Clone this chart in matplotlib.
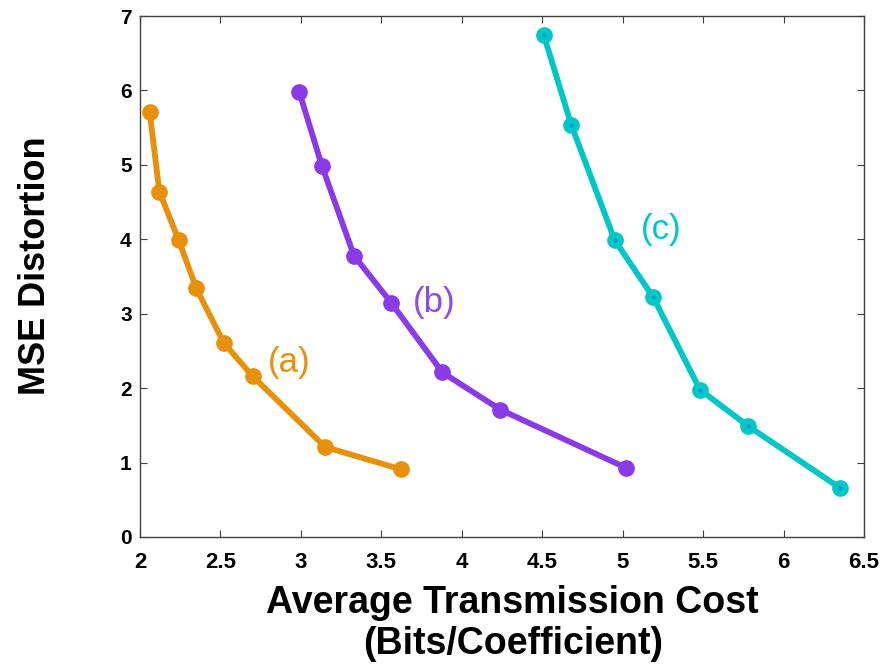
import matplotlib
matplotlib.use("Agg")
import matplotlib.pyplot as plt

plt.rcParams["font.family"] = ["Liberation Sans", "DejaVu Sans"]

# rate-distortion curves: average bits per coefficient vs. MSE
cost_a = [2.06, 2.12, 2.24, 2.35, 2.52, 2.70, 3.15, 3.62]
mse_a = [5.71, 4.64, 3.99, 3.34, 2.61, 2.16, 1.21, 0.91]

cost_b = [2.99, 3.13, 3.33, 3.56, 3.88, 4.24, 5.02]
mse_b = [5.98, 4.99, 3.78, 3.15, 2.21, 1.71, 0.93]

cost_c = [4.51, 4.68, 4.95, 5.19, 5.48, 5.78, 6.35]
mse_c = [6.74, 5.54, 3.99, 3.22, 1.98, 1.49, 0.66]

x_ticks = [2, 2.5, 3, 3.5, 4, 4.5, 5, 5.5, 6, 6.5]
y_ticks = [0, 1, 2, 3, 4, 5, 6, 7]

orange = "#e8900a"
purple = "#8a3ae6"
cyan = "#00c6c6"

fig = plt.figure(figsize=(8.84, 6.64), dpi=100)
ax = fig.add_axes([0.1584, 0.1913, 0.819, 0.7846])

ax.plot(cost_a, mse_a, "-o", color=orange, lw=4.2, ms=11)
ax.plot(cost_b, mse_b, "-o", color=purple, lw=4.2, ms=11)
ax.plot(cost_c, mse_c, "-o", color=cyan, lw=4.2, ms=11)
# small darker centre dots on curve (c)
ax.plot(cost_c, mse_c, "o", color="#0a9ad6", ms=3, mec="none")

ax.text(2.93, 2.35, "(a)", color=orange, fontsize=25, ha="center", va="center")
ax.text(3.83, 3.15, "(b)", color="#8a4cf0", fontsize=25, ha="center", va="center")
ax.text(5.24, 4.13, "(c)", color=cyan, fontsize=25, ha="center", va="center")

ax.set_xlim(2, 6.5)
ax.set_ylim(0, 7)
ax.set_xticks(x_ticks)
ax.set_xticklabels([f"{t:g}" for t in x_ticks], fontsize=16, fontweight="bold")
ax.set_yticks(y_ticks)
ax.set_yticklabels([str(t) for t in y_ticks], fontsize=15, fontweight="bold")
ax.tick_params(direction="in", length=5, width=0.8, color="#404040",
               top=True, right=True)
ax.tick_params(axis="x", pad=11)
ax.tick_params(axis="y", pad=6)
for s in ax.spines.values():
    s.set_color("#404040")
    s.set_linewidth(1.0)

fig.text(0.040, 0.600, "MSE Distortion", rotation=90, ha="center", va="center",
         fontsize=26, fontweight="bold")
fig.text(0.58, 0.092, "Average Transmission Cost", ha="center", va="center",
         fontsize=27, fontweight="bold")
fig.text(0.58, 0.030, "(Bits/Coefficient)", ha="center", va="center",
         fontsize=27, fontweight="bold")

fig.savefig("out.png", dpi=100)
